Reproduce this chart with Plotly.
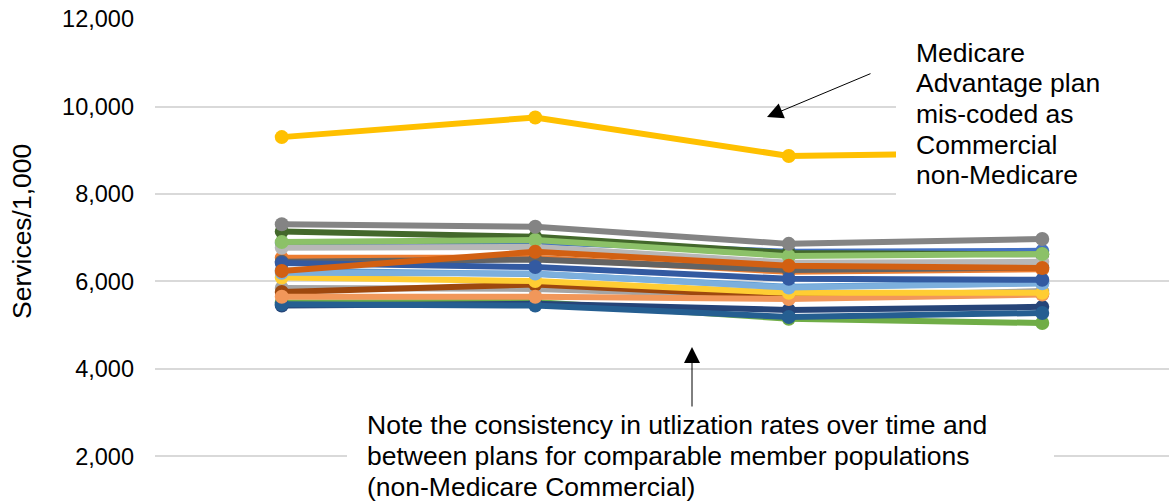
import plotly.graph_objects as go

# Four measurement periods (no axis labels are shown)
periods = ["P1", "P2", "P3", "P4"]

# Services per 1,000 members for each health plan
plan_01 = [6880, 6900, 6680, 6700]
plan_02 = [6540, 6540, 6220, 6280]
plan_03 = [5850, 5830, 5650, 5780]
plan_04 = [9300, 9750, 8870, 8950]   # Medicare Advantage plan coded as Commercial
plan_05 = [6250, 6170, 5880, 5960]
plan_06 = [5520, 5530, 5150, 5050]
plan_07 = [5450, 5490, 5350, 5420]
plan_08 = [5760, 5930, 5650, 5720]
plan_09 = [6450, 6500, 6260, 6320]
plan_10 = [5480, 5450, 5190, 5280]
plan_11 = [7140, 7020, 6650, 6620]
plan_12 = [5650, 5650, 5600, 5700]
plan_13 = [6770, 6790, 6430, 6450]
plan_14 = [6090, 6010, 5740, 5740]
plan_15 = [6200, 6180, 5860, 5960]
plan_16 = [6900, 6950, 6580, 6630]
plan_17 = [6420, 6330, 6060, 6040]
plan_18 = [6240, 6680, 6360, 6310]
plan_19 = [7310, 7250, 6860, 6970]

plans = [plan_01, plan_02, plan_03, plan_04, plan_05, plan_06, plan_07,
         plan_08, plan_09, plan_10, plan_11, plan_12, plan_13, plan_14,
         plan_15, plan_16, plan_17, plan_18, plan_19]

colors = ["#4472C4", "#ED7D31", "#A5A5A5", "#FFC000", "#5B9BD5", "#70AD47",
          "#264478", "#9E480E", "#636363", "#255E91", "#43682B", "#F1975A",
          "#B7B7B7", "#FFCD33", "#7CAFDD", "#8CC168", "#335AA1", "#D26012",
          "#848484"]

y_ticks = [2000, 4000, 6000, 8000, 10000, 12000]
y_tick_text = ["2,000", "4,000", "6,000", "8,000", "10,000", "12,000"]

FONT = "Liberation Sans, Arial, sans-serif"

W, H = 1169, 504
L, T = 155, 19
PW, PH = W - L, H - T


def px(x):
    return (x - L) / PW


def py(y):
    return (H - y) / PH


fig = go.Figure()
for i, (vals, col) in enumerate(zip(plans, colors)):
    fig.add_trace(go.Scatter(
        x=periods, y=vals, mode="lines+markers", name=f"Plan {i + 1}",
        line=dict(color=col, width=6),
        marker=dict(color=col, size=14),
        showlegend=False,
    ))

# White callout boxes laid over the plot
fig.add_shape(type="rect", xref="paper", yref="paper", layer="above",
              x0=px(896), x1=px(1175), y0=py(202), y1=py(26),
              fillcolor="white", line=dict(width=0))
fig.add_shape(type="rect", xref="paper", yref="paper", layer="above",
              x0=px(347), x1=px(1054), y0=py(520), y1=py(408),
              fillcolor="white", line=dict(width=0))

annotations = []
top_lines = ["Medicare", "Advantage plan", "mis-coded as", "Commercial",
             "non-Medicare"]
for k, line in enumerate(top_lines):
    annotations.append(dict(
        text=line, xref="paper", yref="paper", x=px(914), y=py(53 + k * 30.5),
        xanchor="left", yanchor="middle", showarrow=False,
        font=dict(family=FONT, size=26.5, color="black")))

bottom_lines = ["Note the consistency in utlization rates over time and",
                "between plans for comparable member populations",
                "(non-Medicare Commercial)"]
for k, line in enumerate(bottom_lines):
    annotations.append(dict(
        text=line, xref="paper", yref="paper", x=px(365), y=py(425 + k * 31),
        xanchor="left", yanchor="middle", showarrow=False,
        font=dict(family=FONT, size=26.5, color="black")))

# Callout arrows
annotations.append(dict(
    text="", xref="paper", yref="paper", x=px(767), y=py(117),
    ax=105, ay=-44, showarrow=True, arrowhead=2, arrowsize=3.2,
    arrowwidth=1, arrowcolor="black", standoff=0))
annotations.append(dict(
    text="", xref="paper", yref="paper", x=px(692), y=py(347),
    ax=0, ay=61, showarrow=True, arrowhead=2, arrowsize=3.2,
    arrowwidth=1, arrowcolor="black", standoff=0))

# Y-axis title
annotations.append(dict(
    text="Services/1,000", xref="paper", yref="paper", x=px(22), y=py(232),
    xanchor="center", yanchor="middle", textangle=-90, showarrow=False,
    font=dict(family=FONT, size=26.5, color="black")))

fig.update_layout(
    width=W, height=H,
    margin=dict(l=L, r=0, t=T, b=0),
    paper_bgcolor="white", plot_bgcolor="white",
    font=dict(family=FONT, color="black"),
    annotations=annotations,
    xaxis=dict(range=[-0.5, 3.5], showticklabels=False, showgrid=False,
               zeroline=False, showline=False, ticks=""),
    yaxis=dict(range=[914, 12000], tickvals=y_ticks, ticktext=y_tick_text,
               showgrid=True, gridcolor="#D9D9D9", gridwidth=2,
               zeroline=False, showline=False, ticks="",
               tickfont=dict(family=FONT, size=23.5, color="black"),
               ticklabelstandoff=20),
)

fig.write_html("out.html")
